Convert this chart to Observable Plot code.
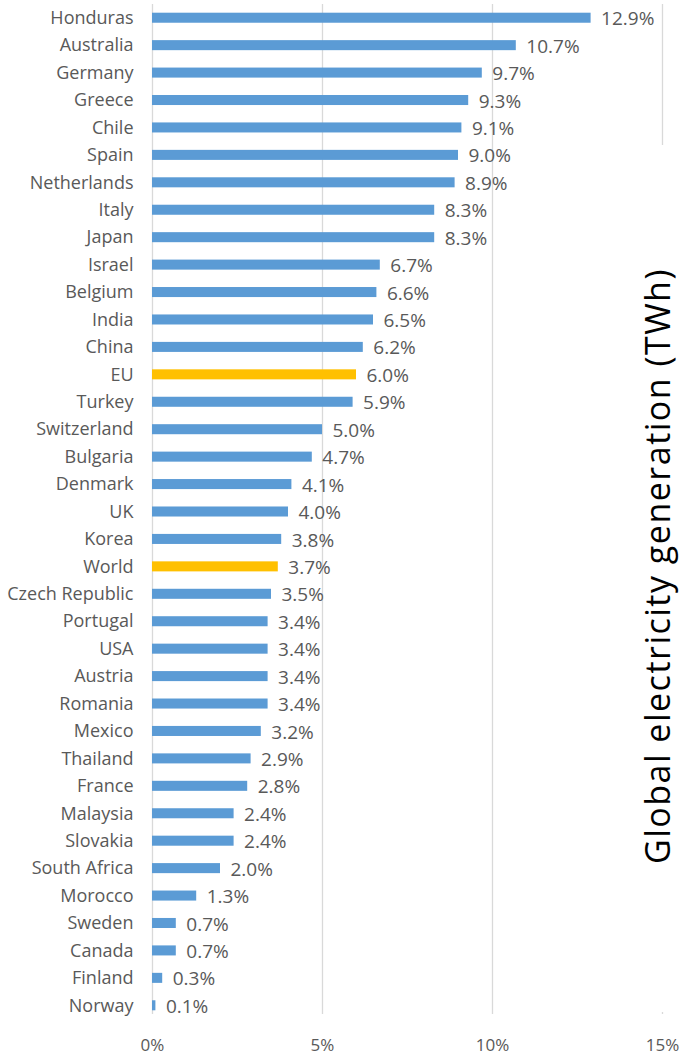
<!DOCTYPE html>
<html>
<head>
<meta charset="utf-8">
<script src="https://cdn.jsdelivr.net/npm/d3@7"></script>
<script src="https://cdn.jsdelivr.net/npm/@observablehq/plot@0.6"></script>
<style>
  html, body { margin: 0; padding: 0; background: #fff; }
  #wrap { position: relative; width: 683px; height: 1055px; overflow: hidden; }
  #mask { position: absolute; left: 638px; top: 145px; width: 45px; height: 867px; background: #fff; }
  #title {
    position: absolute; left: 657px; top: 566px; width: 0; height: 0;
  }
  #title span {
    position: absolute; left: 0; top: 0;
    transform: translate(-50%, -50%) rotate(-90deg);
    font-family: "Open Sans", sans-serif; font-size: 34px; letter-spacing: 1.5px;
    color: #000; white-space: nowrap; line-height: 1;
  }
</style>
</head>
<body>
<div id="wrap"><div id="mask"></div><div id="title"><span>Global electricity generation (TWh)</span></div></div>
<script>
const countries = ["Honduras","Australia","Germany","Greece","Chile","Spain","Netherlands","Italy","Japan","Israel","Belgium","India","China","EU","Turkey","Switzerland","Bulgaria","Denmark","UK","Korea","World","Czech Republic","Portugal","USA","Austria","Romania","Mexico","Thailand","France","Malaysia","Slovakia","South Africa","Morocco","Sweden","Canada","Finland","Norway"];
const shares = [12.9,10.7,9.7,9.3,9.1,9.0,8.9,8.3,8.3,6.7,6.6,6.5,6.2,6.0,5.9,5.0,4.7,4.1,4.0,3.8,3.7,3.5,3.4,3.4,3.4,3.4,3.2,2.9,2.8,2.4,2.4,2.0,1.3,0.7,0.7,0.3,0.1];
const highlighted = ["EU","World"];
const xTicks = [0,5,10,15];

const data = countries.map((c, i) => ({country: c, value: shares[i], hi: highlighted.includes(c)}));

const chart = Plot.plot({
  width: 683,
  height: 1055,
  marginLeft: 152,
  marginRight: 21,
  marginTop: 4,
  marginBottom: 36,
  style: {fontFamily: "'Open Sans', sans-serif", fontSize: "18px", color: "#595959", background: "#fff", overflow: "hidden"},
  x: {domain: [0, 15], ticks: xTicks, tickFormat: d => d + "%", label: null},
  y: {domain: countries, padding: 0, round: false, label: null},
  marks: [
    Plot.ruleX(xTicks, {stroke: "#d9d9d9", strokeWidth: 1.3, insetBottom: 5}),
    Plot.barX(data, {x: "value", y: "country", insetTop: 8.7, insetBottom: 8.7, fill: d => d.hi ? "#ffc000" : "#5b9bd5"}),
    Plot.text(data, {x: "value", y: "country", text: d => d.value.toFixed(1) + "%", textAnchor: "start", dx: 10, dy: 1, fill: "#595959", fontSize: 19}),
    Plot.axisY({tickSize: 0, tickPadding: 19, fontSize: 18, label: null}),
    Plot.axisX({ticks: xTicks, tickFormat: d => d + "%", tickSize: 0, tickPadding: 19, fontSize: 17, label: null})
  ]
});
document.getElementById("wrap").prepend(chart);
</script>
</body>
</html>
